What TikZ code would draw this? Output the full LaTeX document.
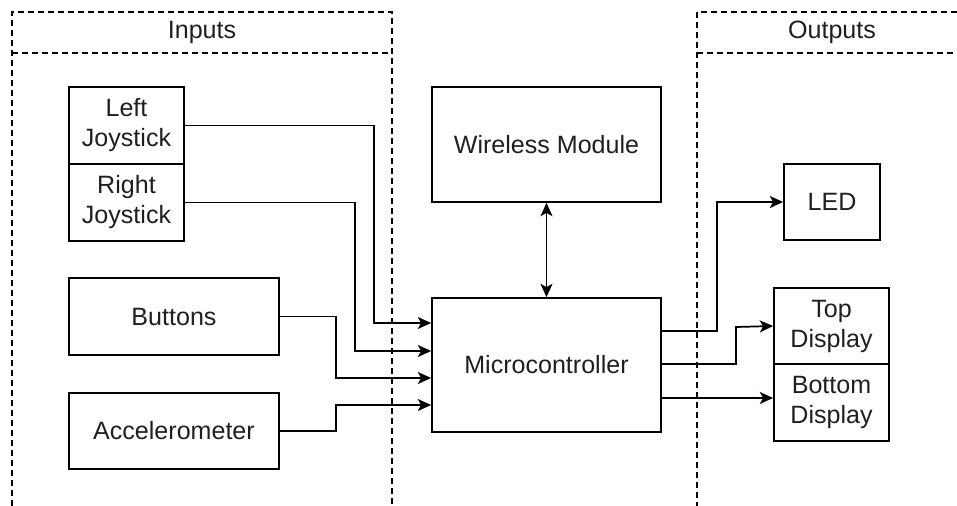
\documentclass[tikz,border=0pt]{standalone}
\usepackage{fontspec}
\setmainfont{Liberation Sans}
\usetikzlibrary{arrows.meta}
\begin{document}
\begin{tikzpicture}[x=0.75pt,y=-0.75pt,
  font=\fontsize{18.8}{22.5}\selectfont,
  box/.style={draw,line width=1.3pt,inner sep=0pt,align=center,text=black!88},
  lane/.style={draw,line width=0.9pt,dash pattern=on 4.5pt off 3pt},
  conn/.style={line width=1.3pt},
  arr/.style={conn,-{Stealth[length=10pt,width=9pt,inset=2.5pt]}},
  darr/.style={conn,{Stealth[length=10pt,width=9pt,inset=2.5pt]}-{Stealth[length=10pt,width=9pt,inset=2.5pt]}}]
\useasboundingbox (0,0) rectangle (957,506);
% swimlanes
\draw[lane] (12,506) -- (12,12) -- (392,12) -- (392,506);
\draw[lane] (12,53) -- (392,53);
\node[text=black!88] (inlbl) at (202,32) {Inputs};
\draw[lane] (957,12) -- (697,12) -- (697,506);
\draw[lane] (697,53) -- (957,53);
\node[text=black!88] (outlbl) at (832,32) {Outputs};
% input nodes
\node[box,minimum width=86.25pt,minimum height=57.75pt] (lj) at (126.5,125.5) {Left\\Joystick};
\node[box,minimum width=86.25pt,minimum height=57.75pt] (rj) at (126.5,202.5) {Right\\Joystick};
\node[box,minimum width=157.5pt,minimum height=57.75pt] (bt) at (174,316.5) {Buttons};
\node[box,minimum width=157.5pt,minimum height=57pt] (ac) at (174,431) {Accelerometer};
% centre nodes
\node[box,minimum width=171.75pt,minimum height=86.25pt] (wm) at (546.5,144.5) {Wireless Module};
\node[box,minimum width=171.75pt,minimum height=100.5pt] (mc) at (546.5,365) {Microcontroller};
% output nodes
\node[box,minimum width=72pt,minimum height=57pt] (led) at (832,202) {LED};
\node[box,minimum width=86.25pt,minimum height=57pt] (td) at (831.5,326) {Top\\Display};
\node[box,minimum width=86.25pt,minimum height=57.75pt] (bd) at (831.5,402.5) {Bottom\\Display};
% input connectors
\draw[arr] (lj.east) -| (374,323) -- ([yshift=31.5pt]mc.west);
\draw[arr] (rj.east) -| (355,351) -- ([yshift=10.5pt]mc.west);
\draw[arr] (bt.east) -| (336,378) -- ([yshift=-9.75pt]mc.west);
\draw[arr] (ac.east) -| (336,405) -- ([yshift=-30pt]mc.west);
% wireless
\draw[darr] (wm.south) -- (mc.north);
% output connectors
\draw[arr] ([yshift=25.5pt]mc.east) -| (717,202) -- (led.west);
\draw[arr] ([yshift=0.75pt]mc.east) -| (736,327) -- (td.west);
\draw[arr] ([yshift=-24.75pt]mc.east) -- ([yshift=-24.75pt]mc.east -| bd.west);
\end{tikzpicture}
\end{document}
